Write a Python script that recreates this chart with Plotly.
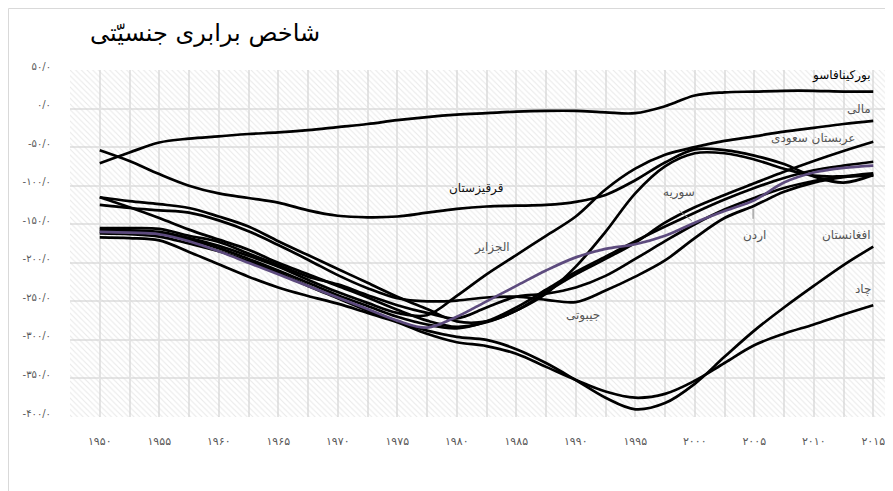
import plotly.graph_objects as go

# ---------------- data ----------------
years = [1950, 1952.5, 1955, 1957.5, 1960, 1962.5, 1965, 1967.5, 1970, 1972.5,
         1975, 1977.5, 1980, 1982.5, 1985, 1987.5, 1990, 1992.5, 1995, 1997.5,
         2000, 2002.5, 2005, 2007.5, 2010, 2012.5, 2015]

burkina = [-71, -57, -44, -39, -36, -33, -31, -28, -24, -20, -15, -11, -8, -6, -4, -3,
           -3, -5, -6, 3, 17, 21, 22, 23, 23, 22, 22]
kyrgyz = [-54, -68, -85, -100, -110, -116, -122, -132, -139, -141, -140, -135, -130,
          -127, -126, -125, -121, -112, -93, -70, -53, -54, -61, -72, -88, -96, -86]
algeria = [-115, -128, -142, -157, -170, -183, -200, -215, -230, -245, -261, -275, -283,
           -277, -262, -240, -205, -160, -110, -75, -58, -58, -66, -78, -87, -88, -87]
saudi = [-115, -120, -124, -129, -140, -153, -172, -190, -208, -226, -244, -260, -276,
         -276, -262, -238, -215, -195, -174, -148, -128, -112, -97, -82, -68, -55, -43]
djibouti = [-125, -129, -132, -135, -145, -159, -177, -196, -216, -233, -246, -250, -249,
            -245, -244, -248, -251, -236, -218, -197, -168, -142, -126, -108, -96, -89, -85]
average = [-160, -161, -163, -172, -185, -200, -215, -230, -245, -260, -275, -284, -270,
           -250, -230, -210, -193, -182, -176, -165, -148, -133, -119, -96, -83, -77, -74]
syria = [-155, -155, -156, -165, -173, -188, -203, -218, -228, -242, -255, -265, -272,
         -258, -244, -240, -232, -217, -195, -172, -150, -131, -116, -103, -94, -88, -84]
mali = [-157, -158, -160, -168, -178, -191, -205, -222, -238, -252, -265, -268, -243,
        -215, -190, -165, -140, -105, -78, -60, -50, -42, -36, -30, -25, -20, -16]
afghanistan = [-162, -163, -166, -175, -185, -198, -213, -230, -246, -262, -276, -288, -296,
               -300, -312, -330, -352, -375, -390, -382, -357, -322, -288, -258, -230, -203, -179]
chad = [-167, -168, -171, -186, -202, -218, -232, -243, -253, -265, -277, -292, -303,
        -308, -318, -335, -352, -367, -375, -370, -353, -330, -307, -292, -280, -267, -255]
jordan = [-160, -160, -162, -170, -181, -195, -210, -226, -242, -256, -270, -280, -285,
          -276, -258, -235, -212, -192, -172, -153, -135, -118, -103, -90, -80, -74, -69]

series_names = ["بورکینافاسو", "قرقیزستان", "الجزایر", "عربستان سعودی", "جیبوتی",
                "سوریه", "مالی", "افغانستان", "چاد", "اردن"]
series_values = [burkina, kyrgyz, algeria, saudi, djibouti,
                 syria, mali, afghanistan, chad, jordan]
highlight_name = "میانگین"
highlight_values = average

x_tick_values = [1950, 1955, 1960, 1965, 1970, 1975, 1980, 1985, 1990, 1995, 2000, 2005, 2010, 2015]
x_tick_labels = ["۱۹۵۰", "۱۹۵۵", "۱۹۶۰", "۱۹۶۵", "۱۹۷۰", "۱۹۷۵", "۱۹۸۰", "۱۹۸۵",
                 "۱۹۹۰", "۱۹۹۵", "۲۰۰۰", "۲۰۰۵", "۲۰۱۰", "۲۰۱۵"]
y_tick_values = [50, 0, -50, -100, -150, -200, -250, -300, -350, -400]
y_tick_labels = ["۵۰/۰", "۰/۰", "-۵۰/۰", "-۱۰۰/۰", "-۱۵۰/۰", "-۲۰۰/۰",
                 "-۲۵۰/۰", "-۳۰۰/۰", "-۳۵۰/۰", "-۴۰۰/۰"]

title_text = "شاخص برابری جنسیّتی"

# label anchors (positions for text only)
label_texts = ["بورکینافاسو", "مالی", "عربستان سعودی", "قرقیزستان", "الجزایر",
               "سوریه", "اردن", "افغانستان", "چاد", "جیبوتی"]
label_x = [2015, 2015, 2013.7, 1981.6, 1983, 1998.7, 2005, 2015, 2015, 1990.6]
label_y = [43, -1, -39, -104, -180, -109, -165, -164, -234, -268]
label_anchor = ["right", "right", "right", "center", "center", "center", "center",
                "right", "right", "center"]
label_color = ["#000000", "#555555", "#555555", "#111111", "#555555", "#555555",
               "#555555", "#555555", "#555555", "#555555"]

X_RANGE = [1947.5, 2016.66]
Y_RANGE = [-400, 50]

FONT = "DejaVu Sans"
PURPLE = "#5d4b7e"

# figure geometry (pixels inside the figure)
W, H = 893, 491
ML, MT, MB, MR = 62, 62, 82, 8
PW, PH = W - ML - MR, H - MT - MB

fig = go.Figure()

# hatched plot background
fig.add_trace(go.Scatter(
    x=[X_RANGE[0], X_RANGE[1], X_RANGE[1], X_RANGE[0], X_RANGE[0]],
    y=[Y_RANGE[0], Y_RANGE[0], Y_RANGE[1], Y_RANGE[1], Y_RANGE[0]],
    fill="toself", mode="none", fillcolor="rgba(0,0,0,0)",
    fillpattern=dict(shape="\\", fgcolor="#d4d4d4", bgcolor="rgba(0,0,0,0)",
                     size=4, solidity=0.28),
    hoverinfo="skip", showlegend=False))

for name, vals in zip(series_names, series_values):
    fig.add_trace(go.Scatter(
        x=years, y=vals, name=name, mode="lines",
        line=dict(color="#000000", width=2.7, shape="spline", smoothing=1.0),
        showlegend=False))

fig.add_trace(go.Scatter(
    x=years, y=highlight_values, name=highlight_name, mode="lines",
    line=dict(color=PURPLE, width=2.7, shape="spline", smoothing=1.0),
    showlegend=False))

for t, lx, ly, anc, col in zip(label_texts, label_x, label_y, label_anchor, label_color):
    fig.add_annotation(x=lx, y=ly, text=t, showarrow=False, xanchor=anc, yanchor="middle",
                       font=dict(family=FONT, size=12, color=col))

# leader lines for سوریه and اردن
fig.add_shape(type="line", x0=1998.7, y0=-132.5, x1=1999.75, y1=-145.5,
              line=dict(color="#888888", width=1))
fig.add_shape(type="line", x0=2004.9, y0=-130, x1=2004.9, y1=-143,
              line=dict(color="#888888", width=1))

# outer chart frame (on the figure edge)
fig.add_shape(type="rect", xref="paper", yref="paper",
              x0=(0.5 - ML) / PW, x1=(W - 0.5 - ML) / PW,
              y0=-(MB - 0.5) / PH, y1=1 + (MT - 0.5) / PH,
              line=dict(color="#d9d9d9", width=1), fillcolor="rgba(0,0,0,0)", layer="below")

fig.update_layout(
    width=W, height=H, autosize=False,
    margin=dict(l=ML, r=MR, t=MT, b=MB, pad=0),
    paper_bgcolor="white", plot_bgcolor="white",
    showlegend=False,
    font=dict(family=FONT),
    title=dict(text=title_text, x=197 / W, xanchor="center", xref="container",
               y=1 - 25 / H, yanchor="middle", yref="container",
               font=dict(family=FONT, size=24, color="#000000")),
)
fig.update_xaxes(
    range=X_RANGE, tickmode="array", tickvals=x_tick_values, ticktext=x_tick_labels,
    showgrid=True, gridcolor="#e4e4e4", gridwidth=1.5, zeroline=False, showline=False,
    ticks="", ticklabelstandoff=16,
    tickfont=dict(family=FONT, size=11, color="#595959"),
    minor=dict(tickmode="linear", tick0=1947.5, dtick=2.5, showgrid=True,
               gridcolor="#e4e4e4", gridwidth=1.5, ticks=""),
)
fig.update_yaxes(
    range=Y_RANGE, tickmode="array", tickvals=y_tick_values, ticktext=y_tick_labels,
    showgrid=True, gridcolor="#e4e4e4", gridwidth=1.5, zeroline=False, showline=False,
    ticks="", ticklabelstandoff=18, ticklabelshift=-4,
    tickfont=dict(family=FONT, size=10, color="#595959"),
)

fig.write_html("out.html")
